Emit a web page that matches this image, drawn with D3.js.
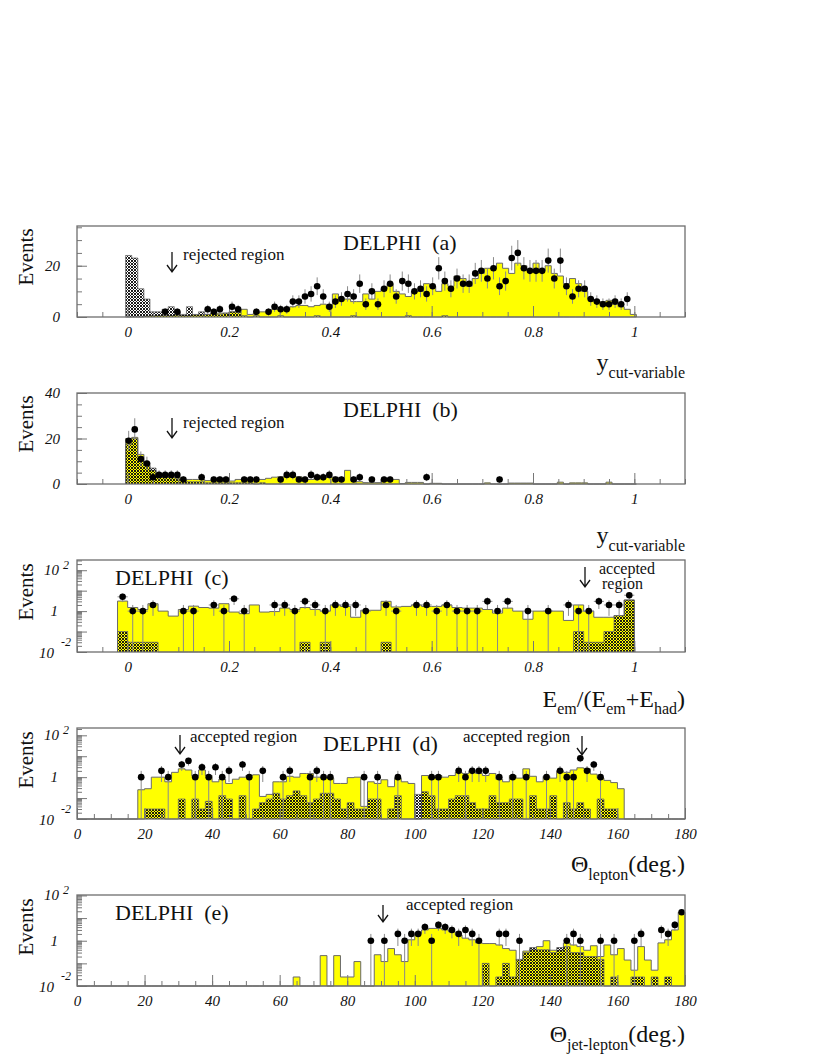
<!DOCTYPE html>
<html>
<head>
<meta charset="utf-8">
<script src="https://cdn.jsdelivr.net/npm/d3@7"></script>
<style>body{margin:0;background:#fff}</style>
</head>
<body>
<script>
// bins: y_cut panels (a,b) start at -0.004, width 0.012; E ratio (c) start -0.02, width 0.02; angles (d,e) 0..180 by 2
const yBin0 = -0.004, yBinW = 0.012;
const eBin0 = -0.02, eBinW = 0.02;
const thBin0 = 0, thBinW = 2;

const fracTicks = [0, 0.2, 0.4, 0.6, 0.8, 1];
const degTicks = [0, 20, 40, 60, 80, 100, 120, 140, 160, 180];

// (a) 3 or more jets
const aSignal = [
  0,0,0,0.3,0.5,0.5,0.5,0.5,0.8,0.5,
  0.5,0.8,0.8,1,1.5,1.5,1.5,2,2,3,
  1,1.5,2,2,3,3,3,4,4.5,4.5,
  4,4.5,5,3.5,9,7,7,6,6,9,
  7,10,11,13,10,9,8,10,10,13,
  12,10,13,12,16,15,12,15,17,19,
  19,21,19,17,21,20,18,21,18,20,
  17,16,13,15,13,10,7,6,6,6.5,
  5,4,3,1];
const aBackground = [
  24,23,11,7,2,2,3,4,2,1,
  4,1,2,1,1.5,1,1.5,2,2,0.5,
  0,0.5,0,0,0,0.5,0,0,0,0,
  0,0.5,0,0,0,0,0,0.5,0,0,
  0,0,0,0,0,0,0.5,0,0,0,
  0,0,0.5,0,0,0,0,0,0,0,
  0,0,0,0,0,0,0,0,0,0,
  0,0,0,0,0,0,0,0,0,0,
  0,0,0,0];
const aData = [
  0,0,0,0,0,0,2,0,2,0,
  0,0,0,3,2,3,0,4,3,0,
  0,2,0,2,4,3,3,6,6,8,
  9,12,8,4,6,7,9,8,13,5,
  10,5,11,13,8,14,13,10,11,9,
  12,19,14,11,15,13,13,17,18,15,
  19,12,14,23,25,19,18,18,18,22,
  15,22,12,8,11,11,7,6,5,5,
  6,5,7,0];

// (b) 2 jets
const bSignal = [
  20,20.5,13,9.5,6,4.5,3,3,3,2,
  2,2,2,1.5,1.5,1.3,1.3,1.3,2,2,
  2,2,2,2.5,3,3.2,3.2,3.2,3.2,2,
  2,3,3,3,3,1.5,6,1.5,1,0.6,
  0.6,0.6,2,2,2,0.2,0.7,0.7,0.7,0,
  0.3,0.3,0,0,0,0,0,0,0,0.5,
  0,0,0,0.4,0.4,0.4,0.4,0,0,0,
  0,0.8,0,0.5,0.5,0.5,0,0,0,0.8,
  0,0,0,0];
const bBackground = [
  17.5,20,12,8,7,4,3,3,2.5,1.5,
  1,1,1,0.5,0.5,0.5,0.5,0.5,0.5,0.5,
  0.5,0,0.5,0,0,0,0,0,0,0,
  0,0,0,0,0,0,0,0,0,0,
  0,0,0,0,0,0,0,0,0,0,
  0,0,0,0,0,0,0,0,0,0,
  0,0,0,0,0,0,0,0,0,0,
  0,0,0,0,0,0,0,0,0,0,
  0,0,0,0];
const bData = [
  19,24,11,9,3,4,4,4,4,2,
  0,0,3,0,2,2,2,0,0,2,
  2,2,0,0,0,2,4,4,2,2,
  4,3,3,4,2,2,0,2,3,0,
  2,0,2,2,0,0,0,0,0,3,
  0,0,0,0,0,0,0,0,0,0,
  0,2,0,0,0,0,0,0,0,0,
  0,0,0,0,0,0,0,0,0,0,
  0,0,0,0];

// (c) E_em/(E_em+E_had)
const cSignal = [
  3.1,1.5,1.2,2.3,1,0.57,1.2,1.75,1.5,1.4,
  2.3,0.9,0.75,2,0.9,0.95,1.4,1.2,1.5,1.2,
  1,2,1.7,0.5,1.1,1.1,3,1.6,1.7,2,
  1.7,1.7,2,1.5,1.4,1.4,1.2,0.8,1.4,1,
  0.4,1,1,1,0.35,2,1,0.5,0.5,0.6,
  3.5];
const cBackground = [
  0.1,0.03,0.03,0.03,0,0,0,0,0,0,
  0,0,0,0,0,0,0,0,0.03,0,
  0.03,0,0,0,0,0,0.03,0,0,0,
  0,0,0,0,0,0,0,0,0,0,
  0,0,0,0,0,0.1,0.03,0.03,0.1,0.6,
  3.5];
const cData = [
  5,1,1,2,0,0,1,1,0,2,
  1,4,1,0,0,2,2,1,3,2,
  1,2,2,2,1,0,2,1,0,2,
  2,1,2,1,1,1,3,1,3,0,
  1,0,1,0,2,1,1,3,2,2,
  6];

// (d) theta lepton
const dSignal = [
  0,0,0,0,0,0,0,0,0,0.25,
  0.28,1,1,0.6,1.7,2.5,2.2,1.1,2.2,1.2,
  0.6,0.8,0.5,0.8,1,1.2,1.3,0.12,0.15,0.6,
  0.6,1.1,1,1.5,1.5,1,1,0.9,0.5,0.5,
  0.95,1,0.04,0.6,0.5,0.75,0.35,0.9,0.6,0.5,
  0,1.2,0.9,1.2,1,1.2,1.7,1.5,2,1.5,
  1.2,1.5,0.8,0.6,1.2,0.9,2.5,1.1,0.6,1.1,
  0.9,2,1.7,2.2,2.8,2.5,1.4,0.9,0.7,0.55,
  0.28,0,0,0,0,0,0,0,0,0];
const dBackground = [
  0,0,0,0,0,0,0,0,0,0,
  0.03,0.03,0.03,0,0,0.09,0,0.09,0.03,0.07,
  0,0.13,0.09,0,0.13,0,0.03,0.06,0.09,0.17,
  0.09,0.13,0.22,0.13,0.06,0.09,0.17,0.17,0.09,0.03,
  0.06,0.03,0.03,0.09,0.09,0,0.03,0.13,0,0,
  0.15,0.2,0.13,0.03,0.03,0.09,0.13,0.13,0.06,0.03,
  0.03,0.13,0.06,0.06,0.09,0.09,0,0.13,0.03,0.03,
  0.13,0,0.06,0.03,0.06,0.03,0,0.09,0.03,0.03,
  0,0,0,0,0,0,0,0,0,0];
const dData = [
  0,0,0,0,0,0,0,0,0,1,
  0,0,2,1,0,4,6,1,3,1,
  3,1,2,0,4,1,0,2,0,0,
  1,2,0,0,1,2,1,1,0,0,
  0,0,1,0,1,0,0,1,0,0,
  0,0,1,1,0,0,2,1,2,2,
  2,0,1,0,1,0,1,0,0,1,
  0,2,1,1,8,2,4,1,0,0,
  0,0,0,0,0,0,0,0,0,0];

// (e) theta jet-lepton
const eSignal = [
  0,0,0,0,0,0,0,0,0,0,
  0,0,0,0,0,0,0,0,0,0,
  0,0,0,0,0,0,0,0,0,0,
  0,0,0.025,0,0,0,0.22,0,0.22,0.025,
  0.025,0.12,0,0,0.24,0.12,0.45,0.24,0.12,1.1,
  2,3,3.5,3.5,3,2.5,1.8,1.3,1.1,0.8,
  0.75,0.75,0.65,0.45,0.38,0.14,0.35,0.4,0.55,1,
  0.38,0.38,0.8,0.65,0.55,0.38,0.6,0.2,0.65,0.24,
  0.45,0.14,0.05,0.55,0.14,0.05,0.8,1.1,3,18];
const eBackground = [
  0,0,0,0,0,0,0,0,0,0,
  0,0,0,0,0,0,0,0,0,0,
  0,0,0,0,0,0,0,0,0,0,
  0,0,0,0,0,0,0,0,0,0,
  0,0,0,0,0,0,0,0,0,0,
  0,0,0,0,0,0,0,0,0,0,
  0.1,0,0.025,0.1,0.025,0.15,0.3,0.5,0.4,0.4,
  0.3,0.5,0.55,0.3,0.3,0.2,0.2,0.15,0,0.025,
  0,0,0.025,0.025,0,0.025,0,0.025,0,0];
const eData = [
  0,0,0,0,0,0,0,0,0,0,
  0,0,0,0,0,0,0,0,0,0,
  0,0,0,0,0,0,0,0,0,0,
  0,0,0,0,0,0,0,0,0,0,
  0,0,0,1,0,1,0,2,1,2,
  2,4,1,5,4,3,2,3,2,1,
  0,0,2,2,0,1,0,0,0,0,
  0,0,1,2,1,0,0,1,0,1,
  0,0,1,2,0,0,3,2,5,18];

const W = 822, H = 1063;
const X0 = 77, X1 = 685;
const serif = "'Liberation Serif','Times New Roman',serif";
const gray = "#777";

const svg = d3.select("body").append("svg")
  .attr("width", W).attr("height", H)
  .style("font-family", serif);
svg.append("rect").attr("width", W).attr("height", H).attr("fill", "#fff");

// cross-hatch used for the background histogram
const pat = svg.append("defs").append("pattern")
  .attr("id", "xhatch").attr("patternUnits", "userSpaceOnUse")
  .attr("width", 3).attr("height", 3);
pat.append("path").attr("d", "M0,0L3,3M3,0L0,3")
  .attr("stroke", "#111").attr("stroke-width", 0.95);

const panels = [
  { top: 226, bottom: 317, log: false, yDomain: [0, 35.5], yLabels: [0, 20],
    xDomain: [-0.1, 1.1], xMinor: 0.05, xLabels: fracTicks,
    bin0: yBin0, binW: yBinW, signal: aSignal, back: aBackground, data: aData,
    title: "DELPHI  (a)", titleX: 343, titleY: 250, evY: 257,
    notes: [{ text: "rejected region", x: 183, y: 260, size: 17 }],
    arrows: [{ x: 172, y1: 252, y2: 272 }],
    xTitle: ["y", "cut-variable"], xTitleY: 370 },
  { top: 393, bottom: 484, log: false, yDomain: [0, 40], yLabels: [0, 20, 40],
    xDomain: [-0.1, 1.1], xMinor: 0.05, xLabels: fracTicks,
    bin0: yBin0, binW: yBinW, signal: bSignal, back: bBackground, data: bData,
    title: "DELPHI  (b)", titleX: 343, titleY: 417, evY: 424,
    notes: [{ text: "rejected region", x: 183, y: 428, size: 17 }],
    arrows: [{ x: 172, y1: 418, y2: 438 }],
    xTitle: ["y", "cut-variable"], xTitleY: 543 },
  { top: 560, bottom: 652, log: true, yDomain: [0.01, Math.pow(10, 2.5)],
    xDomain: [-0.1, 1.1], xMinor: 0.05, xLabels: fracTicks,
    bin0: eBin0, binW: eBinW, signal: cSignal, back: cBackground, data: cData,
    title: "DELPHI  (c)", titleX: 115, titleY: 585, evY: 592,
    notes: [{ text: "accepted", x: 599, y: 574, size: 16 }, { text: "region", x: 602, y: 589, size: 16 }],
    arrows: [{ x: 585, y1: 567, y2: 587 }],
    xTitle: "E", xTitleY: 707 },
  { top: 728, bottom: 819, log: true, yDomain: [0.01, Math.pow(10, 2.35)],
    xDomain: [0, 180], xMinor: 5, xLabels: degTicks,
    bin0: thBin0, binW: thBinW, signal: dSignal, back: dBackground, data: dData,
    title: "DELPHI  (d)", titleX: 323, titleY: 751, evY: 760,
    notes: [{ text: "accepted region", x: 190, y: 742, size: 17 }, { text: "accepted region", x: 463, y: 742, size: 17 }],
    arrows: [{ x: 180, y1: 735, y2: 754 }, { x: 582, y1: 736, y2: 755 }],
    xTitle: ["Θ", "lepton", "(deg.)"], xTitleY: 872 },
  { top: 895, bottom: 986, log: true, yDomain: [0.01, Math.pow(10, 2.02)],
    xDomain: [0, 180], xMinor: 5, xLabels: degTicks,
    bin0: thBin0, binW: thBinW, signal: eSignal, back: eBackground, data: eData,
    title: "DELPHI  (e)", titleX: 115, titleY: 920, evY: 927,
    notes: [{ text: "accepted region", x: 406, y: 910, size: 17 }],
    arrows: [{ x: 383, y1: 905, y2: 922 }],
    xTitle: ["Θ", "jet-lepton", "(deg.)"], xTitleY: 1042 }
];

panels.forEach(drawPanel);

function drawPanel(p) {
  const g = svg.append("g");
  const x = d3.scaleLinear().domain(p.xDomain).range([X0, X1]);
  const y = (p.log ? d3.scaleLog() : d3.scaleLinear())
    .domain(p.yDomain).range([p.bottom, p.top]).clamp(true);
  const yv = v => (v <= 0 ? p.bottom : y(Math.max(v, p.yDomain[0])));

  // step outlines of the two simulated histograms
  const steps = vals => {
    const pts = [[p.bin0, 0]];
    vals.forEach((v, i) => pts.push([p.bin0 + i * p.binW, v]));
    pts.push([p.bin0 + vals.length * p.binW, 0]);
    return pts;
  };
  const line = d3.line().x(d => x(d[0])).y(d => yv(d[1])).curve(d3.curveStepAfter);

  g.append("path").attr("d", line(steps(p.signal)))
    .attr("fill", "#ffff00").attr("stroke", "#6a6a6a").attr("stroke-width", 1);
  g.append("path").attr("d", line(steps(p.back)))
    .attr("fill", "url(#xhatch)").attr("stroke", "#6a6a6a").attr("stroke-width", 0.8);

  // axes: ticks point inwards
  const xa = g.append("g").attr("transform", `translate(0,${p.bottom})`);
  const minorX = d3.range(p.xDomain[0], p.xDomain[1] + p.xMinor / 2, p.xMinor);
  xa.append("g").call(d3.axisBottom(x).tickValues(minorX).tickSize(-5).tickFormat(""));
  xa.append("g").call(d3.axisBottom(x).tickValues(p.xLabels).tickSize(-11).tickPadding(9)
    .tickFormat(d3.format("~g")));
  xa.selectAll(".domain").remove();
  xa.selectAll("line").attr("stroke", gray);
  xa.selectAll("g").attr("font-family", null).attr("font-size", null);
  xa.selectAll("text").attr("font-size", 15).attr("font-style", "italic").attr("fill", "#111");

  const ya = g.append("g").attr("transform", `translate(${X0},0)`);
  if (p.log) {
    const all = y.ticks();
    const decades = all.filter(v => Math.abs(Math.log10(v) - Math.round(Math.log10(v))) < 1e-6);
    ya.append("g").call(d3.axisLeft(y).tickValues(all).tickSize(-5).tickFormat(""));
    ya.append("g").call(d3.axisLeft(y).tickValues(decades).tickSize(-10).tickFormat(""));
    // 10^2, 1, 10^-2 labels
    const lab = svg.append("g").attr("font-style", "italic").attr("fill", "#111");
    lab.append("text").attr("x", 59).attr("y", y(100) + 5).attr("text-anchor", "end")
      .attr("font-size", 15).text("10");
    lab.append("text").attr("x", 63).attr("y", y(100) - 1).attr("font-size", 12).text("2");
    lab.append("text").attr("x", 58).attr("y", y(1) + 5).attr("text-anchor", "end")
      .attr("font-size", 15).text("1");
    lab.append("text").attr("x", 54).attr("y", p.bottom + 6).attr("text-anchor", "end")
      .attr("font-size", 15).text("10");
    lab.append("text").attr("x", 61).attr("y", p.bottom - 6).attr("font-size", 12).text("-2");
  } else {
    const minorY = d3.range(p.yDomain[0], p.yDomain[1], 5);
    ya.append("g").call(d3.axisLeft(y).tickValues(minorY).tickSize(-5).tickFormat(""));
    ya.append("g").call(d3.axisLeft(y).tickValues(p.yLabels).tickSize(-10).tickPadding(17)
      .tickFormat(d3.format("d")));
  }
  ya.selectAll(".domain").remove();
  ya.selectAll("line").attr("stroke", gray);
  ya.selectAll("g").attr("font-family", null).attr("font-size", null);
  ya.selectAll("text").attr("font-size", 15).attr("font-style", "italic").attr("fill", "#111");

  // data points with statistical errors
  const pts = p.data.map((n, i) => ({ xc: p.bin0 + (i + 0.5) * p.binW, n }))
    .filter(d => d.n > 0);
  const eg = g.append("g").attr("stroke", "#8a8a8a").attr("stroke-width", 1);
  eg.selectAll("line.v").data(pts).join("line").attr("class", "v")
    .attr("x1", d => x(d.xc)).attr("x2", d => x(d.xc))
    .attr("y1", d => yv(d.n + Math.sqrt(d.n)))
    .attr("y2", d => yv(d.n - Math.sqrt(d.n)));
  eg.selectAll("line.h").data(pts).join("line").attr("class", "h")
    .attr("x1", d => x(d.xc - p.binW / 2)).attr("x2", d => x(d.xc + p.binW / 2))
    .attr("y1", d => y(d.n)).attr("y2", d => y(d.n));
  g.append("g").selectAll("circle").data(pts).join("circle")
    .attr("cx", d => x(d.xc)).attr("cy", d => y(d.n)).attr("r", 3.3).attr("fill", "#000");

  // frame
  g.append("rect").attr("x", X0).attr("y", p.top)
    .attr("width", X1 - X0).attr("height", p.bottom - p.top)
    .attr("fill", "none").attr("stroke", "#6e6e6e").attr("stroke-width", 1.3);

  // texts
  svg.append("text").attr("transform", `translate(33,${p.evY}) rotate(-90)`)
    .attr("text-anchor", "middle").attr("font-size", 21).attr("fill", "#111").text("Events");
  svg.append("text").attr("x", p.titleX).attr("y", p.titleY)
    .attr("font-size", 22).attr("fill", "#111").style("white-space", "pre").text(p.title);
  p.notes.forEach(n => svg.append("text").attr("x", n.x).attr("y", n.y)
    .attr("font-size", n.size).attr("fill", "#111").text(n.text));
  p.arrows.forEach(a => svg.append("path")
    .attr("d", `M${a.x},${a.y1}V${a.y2}M${a.x - 5},${a.y2 - 7}L${a.x},${a.y2}L${a.x + 5},${a.y2 - 7}`)
    .attr("fill", "none").attr("stroke", "#111").attr("stroke-width", 1.3));

  const t = svg.append("text").attr("x", X1).attr("y", p.xTitleY)
    .attr("text-anchor", "end").attr("fill", "#111").attr("font-size", 24);
  if (Array.isArray(p.xTitle)) {
    t.append("tspan").text(p.xTitle[0]);
    t.append("tspan").attr("font-size", 16).attr("dy", 8).text(p.xTitle[1]);
    if (p.xTitle[2]) t.append("tspan").attr("dy", -8).text(p.xTitle[2]);
  } else {
    // E_em/(E_em+E_had)
    t.append("tspan").text("E");
    t.append("tspan").attr("font-size", 16).attr("dy", 7).text("em");
    t.append("tspan").attr("dy", -7).text("/(E");
    t.append("tspan").attr("font-size", 16).attr("dy", 7).text("em");
    t.append("tspan").attr("dy", -7).text("+E");
    t.append("tspan").attr("font-size", 16).attr("dy", 7).text("had");
    t.append("tspan").attr("dy", -7).text(")");
  }
}
</script>
</body>
</html>
